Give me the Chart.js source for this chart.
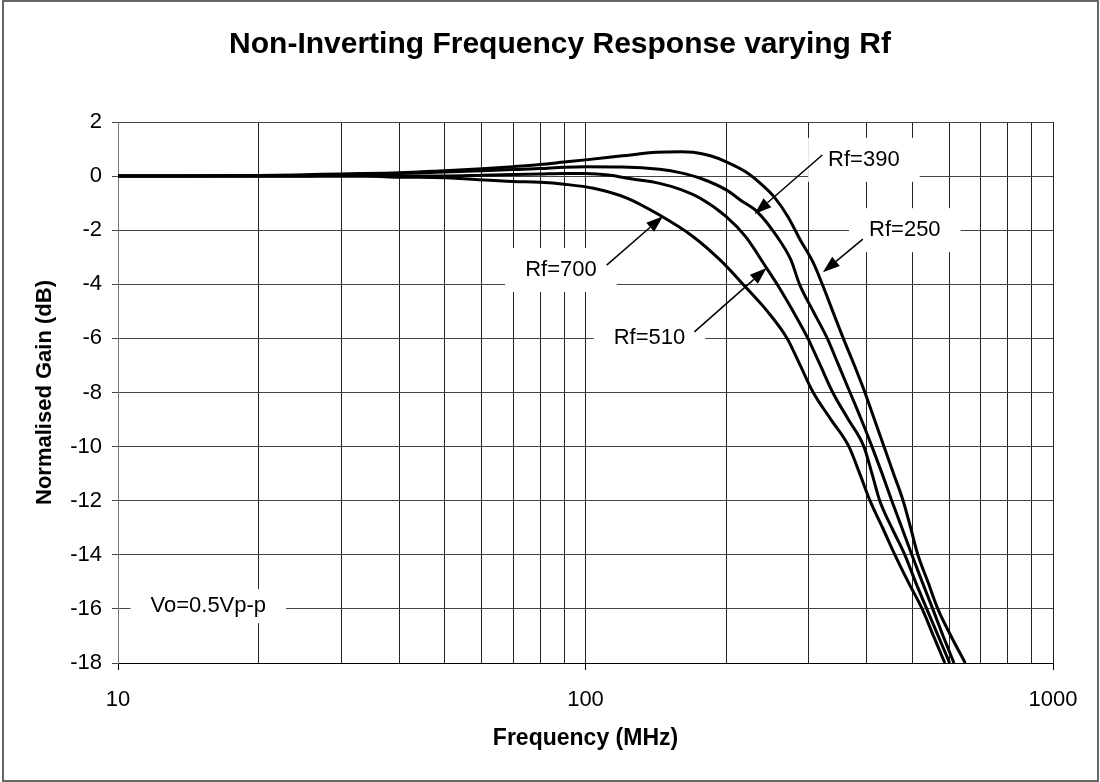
<!DOCTYPE html>
<html>
<head>
<meta charset="utf-8">
<script src="https://cdn.jsdelivr.net/npm/chart.js@4.4.1/dist/chart.umd.min.js"></script>
<style>
  html, body { margin: 0; padding: 0; background: #fff; }
</style>
</head>
<body>
<canvas id="myChart" width="1100" height="782"></canvas>
<script>
// values (frequency in MHz, gain in dB)
const freq250 = [10, 20, 25, 30, 40, 50, 60, 70, 80, 90, 100, 120, 142, 160, 170, 185, 200, 220, 236, 253, 271, 288, 307, 321, 338, 356, 376, 396, 415, 435, 456, 478, 496, 514, 540, 567, 605, 649];
const gain250 = [0, 0.02, 0.05, 0.08, 0.12, 0.2, 0.27, 0.35, 0.43, 0.52, 0.6, 0.75, 0.88, 0.9, 0.88, 0.75, 0.53, 0.16, -0.25, -0.76, -1.5, -2.36, -3.2, -4, -5, -6, -7, -8, -9, -10, -11, -12, -13, -14, -15, -16, -17, -18];

const freq390 = [10, 25, 30, 40, 50, 60, 70, 80, 90, 100, 120, 144, 160, 176, 200, 215, 233, 257, 275, 287, 307, 329, 348, 368, 389, 410, 431, 452, 475, 499, 525, 553, 582, 614];
const gain390 = [0, 0, 0.05, 0.1, 0.15, 0.2, 0.24, 0.28, 0.33, 0.35, 0.34, 0.25, 0.12, -0.08, -0.51, -0.9, -1.32, -2.24, -3.1, -4, -5, -6, -7, -8, -9, -10, -11, -12, -13, -14, -15, -16, -17, -18];

const freq510 = [10, 50, 60, 80, 90, 100, 113, 125, 144, 160, 176, 200, 220, 244, 257, 278, 299, 318, 338, 365, 394, 410, 426, 452, 482, 508, 537, 568, 601];
const gain510 = [0, 0, 0.03, 0.08, 0.1, 0.1, 0.03, -0.1, -0.27, -0.5, -0.82, -1.5, -2.24, -3.4, -4, -5, -6, -7, -8, -9, -10, -11, -12, -13, -14, -15, -16, -17, -18];

const freq700 = [10, 34, 40, 50, 56, 70, 80, 90, 104, 123, 144, 170, 194, 220, 245, 270, 288, 307, 335, 366, 386, 406, 432, 459, 490, 525, 555, 587];
const gain700 = [0, 0, -0.04, -0.06, -0.11, -0.2, -0.23, -0.3, -0.45, -0.82, -1.44, -2.24, -3.1, -4.1, -5, -6, -7, -8, -9, -10, -11, -12, -13, -14, -15, -16, -17, -18];

const freqTicks = [10, 20, 30, 40, 50, 60, 70, 80, 90, 100, 200, 300, 400, 500, 600, 700, 800, 900, 1000];
const freqLabels = [10, 100, 1000];

const chartTitle = 'Non-Inverting Frequency Response varying Rf';

// callouts in data coordinates: label centre, arrow start, arrow tip
const notes = [
  { text: 'Rf=390', at: [394, 0.6], from: [321, 0.78], to: [230, -1.4] },
  { text: 'Rf=250', at: [482, -2.0], from: [392, -2.33], to: [322, -3.55] },
  { text: 'Rf=700', at: [88.6, -3.47], from: [111, -3.29], to: [146.5, -1.48] },
  { text: 'Rf=510', at: [137, -6.0], from: [171, -5.76], to: [244, -3.4] },
  { text: 'Vo=0.5Vp-p', at: [15.6, -15.9] }
];

const FONT = '"Liberation Sans", Arial, sans-serif';

const toXY = (fs, gs) => fs.map((f, i) => ({ x: f, y: gs[i] }));

const line = (label, fs, gs) => ({
  label: label,
  data: toXY(fs, gs),
  borderColor: '#000',
  borderWidth: 3,
  pointRadius: 0,
  fill: false,
  cubicInterpolationMode: 'monotone'
});

const drawArrow = (ctx, x1, y1, x2, y2) => {
  const a = Math.atan2(y2 - y1, x2 - x1);
  const len = 17, w = 6;
  const bx = x2 - len * Math.cos(a), by = y2 - len * Math.sin(a);
  ctx.beginPath();
  ctx.moveTo(x1, y1);
  ctx.lineTo(bx, by);
  ctx.stroke();
  ctx.beginPath();
  ctx.moveTo(x2, y2);
  ctx.lineTo(bx + w * Math.sin(a), by - w * Math.cos(a));
  ctx.lineTo(bx - w * Math.sin(a), by + w * Math.cos(a));
  ctx.closePath();
  ctx.fill();
};

const notePlugin = {
  id: 'notes',
  beforeDatasetsDraw(chart) {
    const { ctx, scales: { x, y } } = chart;
    ctx.save();
    ctx.font = '22px ' + FONT;
    ctx.fillStyle = '#fff';
    notes.forEach((n) => {
      const cx = x.getPixelForValue(n.at[0]);
      const cy = y.getPixelForValue(n.at[1]);
      const w = ctx.measureText(n.text).width + 40;
      const h = n.from ? 44 : 34;
      ctx.fillRect(cx - w / 2, cy - h / 2, w, h);
    });
    ctx.restore();
  },
  afterDatasetsDraw(chart) {
    const { ctx, scales: { x, y } } = chart;
    ctx.save();
    ctx.font = '22px ' + FONT;
    ctx.fillStyle = '#000';
    ctx.strokeStyle = '#000';
    ctx.lineWidth = 1.5;
    ctx.textAlign = 'center';
    ctx.textBaseline = 'middle';
    notes.forEach((n) => {
      ctx.fillText(n.text, x.getPixelForValue(n.at[0]), y.getPixelForValue(n.at[1]));
      if (n.from) {
        drawArrow(ctx,
          x.getPixelForValue(n.from[0]), y.getPixelForValue(n.from[1]),
          x.getPixelForValue(n.to[0]), y.getPixelForValue(n.to[1]));
      }
    });
    ctx.restore();
  },
  afterDraw(chart) {
    const ctx = chart.ctx;
    ctx.save();
    // chart title, centred over the whole frame like the original
    ctx.font = 'bold 30px ' + FONT;
    ctx.fillStyle = '#000';
    ctx.textAlign = 'center';
    ctx.textBaseline = 'middle';
    ctx.fillText(chartTitle, 560, 45);
    ctx.strokeStyle = '#666';
    ctx.lineWidth = 2;
    ctx.strokeRect(3, 1, 1095, 780);
    ctx.restore();
  }
};

Chart.defaults.font.family = FONT;
Chart.defaults.color = '#000';

const ctx = document.getElementById('myChart').getContext('2d');
const myChart = new Chart(ctx, {
  type: 'line',
  data: {
    datasets: [
      line('Rf=250', freq250, gain250),
      line('Rf=390', freq390, gain390),
      line('Rf=510', freq510, gain510),
      line('Rf=700', freq700, gain700)
    ]
  },
  options: {
    responsive: false,
    animation: false,
    layout: { padding: { left: 10, right: 47, top: 122, bottom: 0 } },
    plugins: {
      legend: { display: false },
      tooltip: { enabled: false },
      title: { display: false }
    },
    scales: {
      x: {
        type: 'logarithmic',
        min: 10,
        max: 1000,
        afterBuildTicks: (scale) => {
          scale.ticks = freqTicks.map((v) => ({ value: v }));
        },
        afterFit: (scale) => { scale.height = 119; },
        ticks: {
          autoSkip: false,
          maxRotation: 0,
          padding: 17,
          font: { size: 22 },
          callback: (v) => (freqLabels.includes(v) ? String(v) : '')
        },
        grid: {
          color: '#222',
          lineWidth: 1,
          tickLength: 7,
          tickColor: (c) => (c.tick && freqLabels.includes(c.tick.value) ? '#000' : 'rgba(0,0,0,0)')
        },
        border: { color: '#000', width: 1 },
        title: {
          display: true,
          text: 'Frequency (MHz)',
          font: { size: 23, weight: 'bold' },
          padding: { top: 0, bottom: 30 }
        }
      },
      y: {
        type: 'linear',
        min: -18,
        max: 2,
        afterFit: (scale) => { scale.width = 108; },
        ticks: {
          stepSize: 2,
          padding: 10,
          font: { size: 22 }
        },
        grid: {
          color: '#444',
          lineWidth: 1,
          tickLength: 6,
          tickColor: '#444'
        },
        border: { color: '#777', width: 1 },
        title: {
          display: true,
          text: 'Normalised Gain (dB)',
          font: { size: 22, weight: 'bold' },
          padding: { top: 22, bottom: 0 }
        }
      }
    }
  },
  plugins: [notePlugin]
});
</script>
</body>
</html>
